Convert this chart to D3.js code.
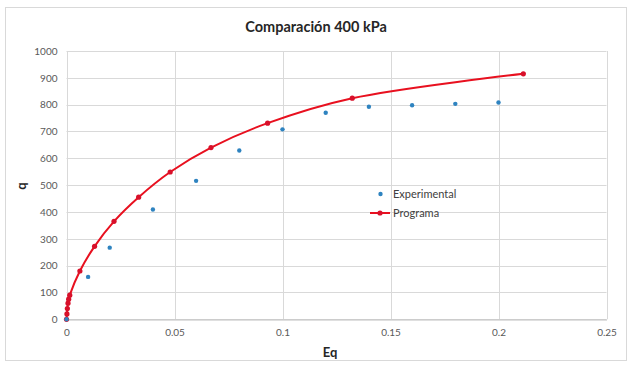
<!DOCTYPE html>
<html><head><meta charset="utf-8">
<script src="https://cdn.jsdelivr.net/npm/d3@7"></script>
<style>body{margin:0;background:#fff}svg{display:block}text{font-family:Lato,"Open Sans",sans-serif}</style>
</head><body><svg id="c" width="632" height="367"></svg>
<script>
const titleText = "Comparación 400 kPa";
const xTicks = [0, 0.05, 0.1, 0.15, 0.2, 0.25];
const yTicks = [0,100,200,300,400,500,600,700,800,900,1000];
const expX = [0, 0.01, 0.02, 0.04, 0.06, 0.08, 0.1, 0.12, 0.14, 0.16, 0.18, 0.2];
const expQ = [0, 158, 267, 409, 516, 629, 708, 770, 792, 798, 803, 808];
const progX = [0, 0.0002, 0.0004, 0.0007, 0.001, 0.0015, 0.0062, 0.013, 0.022, 0.0334, 0.048, 0.0669, 0.0931, 0.1323, 0.2115];
const progQ = [0, 20, 40, 60, 75, 90, 180, 272, 365, 455, 549, 640, 731, 824, 915];
const seriesNames = ["Experimental", "Programa"];

const svg = d3.select("#c");
svg.append("rect").attr("x",5.5).attr("y",7.5).attr("width",621).attr("height",353)
  .attr("fill","#fff").attr("stroke","#d9d9d9");
const x = d3.scaleLinear().domain([0,0.25]).range([66.5,606.5]);
const y = d3.scaleLinear().domain([0,1000]).range([319.3,51]);

svg.append("g").selectAll("line").data(yTicks).join("line")
  .attr("x1",x(0)).attr("x2",x(0.25)).attr("y1",d=>Math.round(y(d))+0.5).attr("y2",d=>Math.round(y(d))+0.5)
  .attr("stroke","#d9d9d9");
svg.append("g").selectAll("line").data(xTicks).join("line")
  .attr("y1",y(0)).attr("y2",y(1000)).attr("x1",d=>Math.round(x(d))+0.5).attr("x2",d=>Math.round(x(d))+0.5)
  .attr("stroke","#d9d9d9");

const fmt = d3.format("");
const xa = svg.append("g").attr("transform",`translate(0,${Math.round(y(0))+0.5})`)
  .call(d3.axisBottom(x).tickValues(xTicks).tickSize(0).tickPadding(9).tickFormat(d=>String(d)));
const ya = svg.append("g").attr("transform",`translate(${Math.round(x(0))+0.5},0)`)
  .call(d3.axisLeft(y).tickValues(yTicks).tickSize(0).tickPadding(10).tickFormat(d=>String(d)));
[xa,ya].forEach(a=>{a.select(".domain").attr("stroke","#bfbfbf");
  a.selectAll("text").attr("fill","#595959").style("font-size","10px");});
ya.select(".domain").remove();

svg.append("text").attr("x",316).attr("y",32).attr("text-anchor","middle")
  .style("font-size","14.5px").style("font-weight","bold").attr("fill","#262626").text(titleText);
svg.append("text").attr("x",330).attr("y",357).attr("text-anchor","middle")
  .style("font-size","13px").style("font-weight","bold").attr("fill","#262626").text("Eq");
svg.append("text").attr("transform","translate(26,186) rotate(-90)").attr("text-anchor","middle")
  .style("font-size","13px").style("font-weight","bold").attr("fill","#262626").text("q");

const prog = progX.map((v,i)=>[v,progQ[i]]);
svg.append("path").datum(prog).attr("fill","none").attr("stroke","#e8101f").attr("stroke-width",2)
  .attr("d",d3.line().x(d=>x(d[0])).y(d=>y(d[1])).curve(d3.curveCatmullRom.alpha(0.5)));
svg.append("g").selectAll("circle").data(prog).join("circle")
  .attr("cx",d=>x(d[0])).attr("cy",d=>y(d[1])).attr("r",2.6).attr("fill","#d8102a");

const exp = expX.map((v,i)=>[v,expQ[i]]);
svg.append("g").selectAll("circle").data(exp).join("circle")
  .attr("cx",d=>x(d[0])).attr("cy",d=>y(d[1])).attr("r",2.2).attr("fill","#2e83c0");

const lg = svg.append("g");
lg.append("circle").attr("cx",380.5).attr("cy",194).attr("r",2.2).attr("fill","#2e83c0");
lg.append("line").attr("x1",370).attr("x2",390).attr("y1",213).attr("y2",213).attr("stroke","#e8101f").attr("stroke-width",2);
lg.append("circle").attr("cx",380).attr("cy",213).attr("r",2.6).attr("fill","#d8102a");
lg.append("text").attr("x",393).attr("y",198).style("font-size","11px").attr("fill","#404040").text(seriesNames[0]);
lg.append("text").attr("x",393).attr("y",217).style("font-size","11px").attr("fill","#404040").text(seriesNames[1]);
</script></body></html>
